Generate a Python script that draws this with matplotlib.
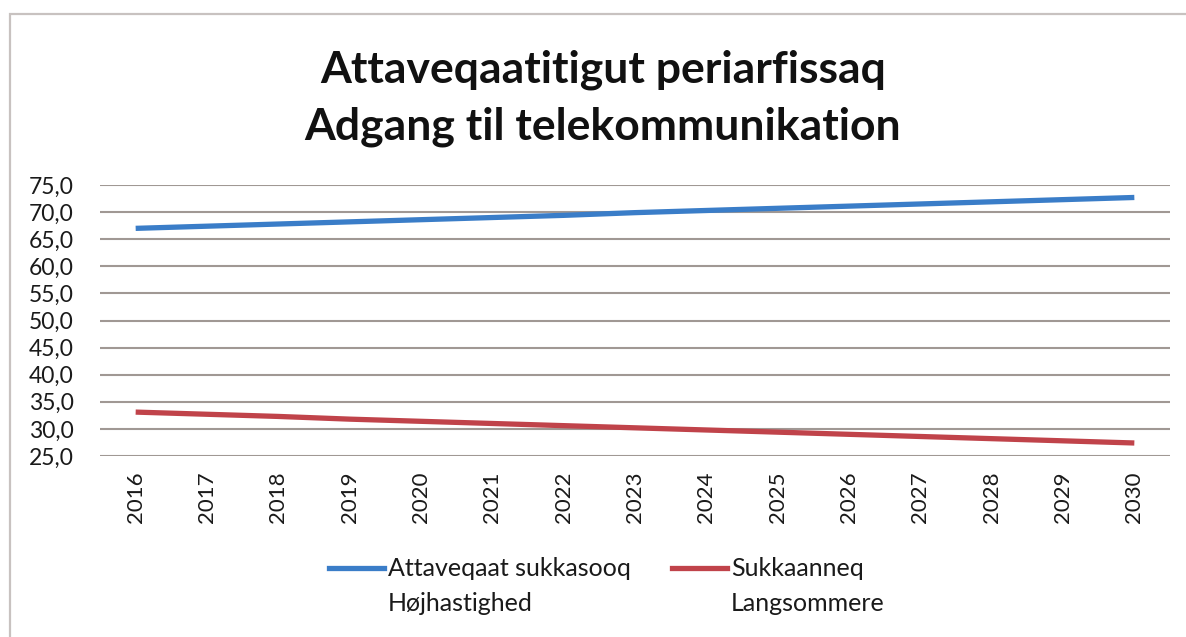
import matplotlib
matplotlib.use("Agg")
import matplotlib.pyplot as plt
from matplotlib.lines import Line2D
from matplotlib.patches import Rectangle
from matplotlib.legend_handler import HandlerLine2D

years = ["2016", "2017", "2018", "2019", "2020", "2021", "2022", "2023",
         "2024", "2025", "2026", "2027", "2028", "2029", "2030"]
high_speed = [67.0, 67.4, 67.8, 68.2, 68.6, 69.0, 69.4, 69.9,
              70.3, 70.7, 71.1, 71.5, 71.9, 72.3, 72.7]
slow = [33.1, 32.7, 32.3, 31.8, 31.4, 31.0, 30.6, 30.2,
        29.8, 29.4, 29.0, 28.6, 28.2, 27.8, 27.4]
y_ticks = [25, 30, 35, 40, 45, 50, 55, 60, 65, 70, 75]
title_lines = ["Attaveqaatitigut periarfissaq", "Adgang til telekommunikation"]
labels = ["Attaveqaat sukkasooq\nHøjhastighed", "Sukkaanneq\nLangsommere"]

plt.rcParams['font.family'] = ['Lato', 'DejaVu Sans']

BLUE = "#3a7dc8"
RED = "#c0434a"

W, H = 1186, 637
fig = plt.figure(figsize=(W / 100, H / 100), dpi=100)
fig.patch.set_facecolor("white")

# frame border (left and top visible, others cropped)
fig.patches.append(Rectangle((9.5 / W, -0.1), 1.2, 1 - 13.5 / H + 0.1,
                             transform=fig.transFigure, fill=False,
                             edgecolor="#c8c2c0", linewidth=1.6))

ax = fig.add_axes([100 / W, 1 - 456 / H, (1170 - 100) / W, (456 - 185) / H])
x = list(range(len(years)))
ax.plot(x, high_speed, color=BLUE, linewidth=3.8, solid_capstyle="butt")
ax.plot(x, slow, color=RED, linewidth=3.8, solid_capstyle="butt")

ax.set_xlim(-0.5, len(years) - 0.5)
ax.set_ylim(25, 75)
ax.set_yticks(y_ticks)
ax.set_yticklabels([f"{v:.1f}".replace(".", ",") for v in y_ticks], fontsize=16.5)
ax.set_xticks(x)
ax.set_xticklabels(years, rotation=90, fontsize=16)
ax.tick_params(axis="both", length=0, colors="#1a1a1a")
ax.tick_params(axis="y", pad=19)
ax.tick_params(axis="x", pad=11)
ax.grid(axis="y", color="#a09894", linewidth=1.5)
ax.set_axisbelow(True)
for s in ax.spines.values():
    s.set_visible(False)

fig.text(603 / W, 1 - 70 / H, title_lines[0], ha="center", va="center",
         fontsize=32, fontweight="bold", color="#111111")
fig.text(603 / W, 1 - 127 / H, title_lines[1], ha="center", va="center",
         fontsize=32, fontweight="bold", color="#111111")


class TopLineHandler(HandlerLine2D):
    def create_artists(self, legend, orig_handle, xdescent, ydescent,
                       width, height, fontsize, trans):
        arts = super().create_artists(legend, orig_handle, xdescent, ydescent,
                                      width, height, fontsize, trans)
        for a in arts:
            yd = a.get_ydata()
            a.set_ydata([v + 13.5 for v in yd])
        return arts


handles = [Line2D([], [], color=BLUE, linewidth=3.8),
           Line2D([], [], color=RED, linewidth=3.8)]
leg = fig.legend(handles, labels, loc="center", ncol=2,
                 bbox_to_anchor=(607 / W, 1 - 586 / H), frameon=False,
                 fontsize=18, handlelength=2.2, handletextpad=0.16,
                 columnspacing=1.64,
                 handler_map={Line2D: TopLineHandler()})
for t in leg.get_texts():
    t.set_color("#1a1a1a")
    t.set_linespacing(1.6)

fig.savefig("out.png", dpi=100, facecolor="white")
